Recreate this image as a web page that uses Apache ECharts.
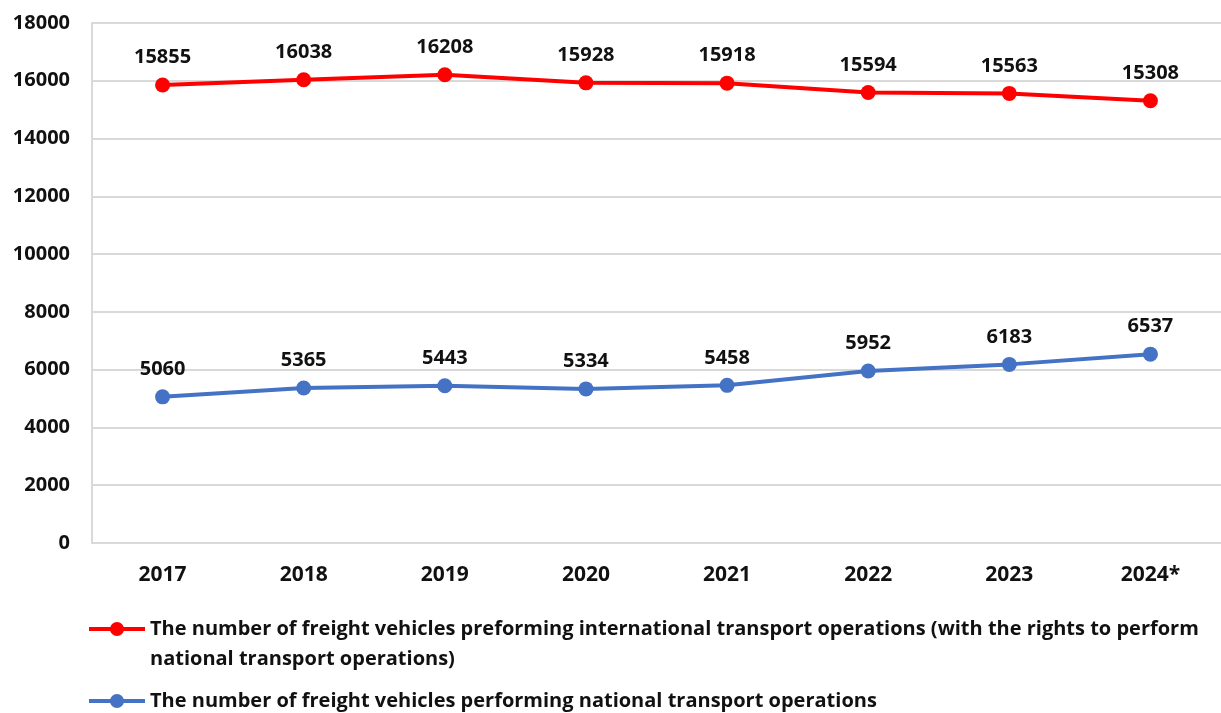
<!DOCTYPE html>
<html>
<head>
<meta charset="utf-8">
<script src="https://cdn.jsdelivr.net/npm/echarts@6/dist/echarts.min.js"></script>
<style>
  html, body { margin: 0; padding: 0; background: #fff; }
  #chart { width: 1221px; height: 713px; }
</style>
</head>
<body>
<div id="chart"></div>
<script>
const years = ['2017', '2018', '2019', '2020', '2021', '2022', '2023', '2024*']
const international = [15855, 16038, 16208, 15928, 15918, 15594, 15563, 15308]
const national = [5060, 5365, 5443, 5334, 5458, 5952, 6183, 6537]
const seriesNames = [
  'The number of freight vehicles preforming international transport operations (with the rights to perform\nnational transport operations)',
  'The number of freight vehicles performing national transport operations'
]

const font = '"Open Sans", sans-serif'
const chart = echarts.init(document.getElementById('chart'))

// legend marker: line with a dot, 56 wide
const dotLine = 'M0 5H56V9H0Z M21 7A7 7 0 1 1 35 7A7 7 0 1 1 21 7Z'
// taller box with the marker at its top, so it sits beside the first text line
const dotLineTall = dotLine + ' M0 43.9L0.05 44L0 44Z'

const labelStyle = {
  show: true,
  position: 'top',
  distance: 10,
  color: '#111',
  fontFamily: font,
  fontWeight: 'bold',
  fontSize: 20
}

const legendText = {
  color: '#111',
  fontFamily: font,
  fontWeight: 'bold',
  fontSize: 20,
  lineHeight: 30
}

chart.setOption({
  animation: false,
  grid: {
    left: 92,
    top: 23,
    width: 1149,
    height: 520
  },
  legend: [
    {
      left: 84,
      top: 609,
      itemWidth: 56,
      itemHeight: 44,
      icon: 'path://' + dotLineTall,
      itemStyle: { borderWidth: 0 },
      data: [seriesNames[0]],
      textStyle: legendText
    },
    {
      left: 84,
      top: 681,
      itemWidth: 56,
      itemHeight: 14,
      icon: 'path://' + dotLine,
      itemStyle: { borderWidth: 0 },
      data: [seriesNames[1]],
      textStyle: legendText
    }
  ],
  xAxis: {
    type: 'category',
    data: years,
    axisLine: { lineStyle: { color: '#d9d9d9', width: 2 } },
    axisTick: { show: false },
    axisLabel: {
      margin: 22,
      color: '#111',
      fontFamily: font,
      fontWeight: 'bold',
      fontSize: 21
    }
  },
  yAxis: {
    type: 'value',
    min: 0,
    max: 18000,
    interval: 2000,
    axisLine: { show: true, lineStyle: { color: '#d9d9d9', width: 2 } },
    splitLine: { lineStyle: { color: '#d9d9d9', width: 2 } },
    axisLabel: {
      margin: 22,
      color: '#111',
      fontFamily: font,
      fontWeight: 'bold',
      fontSize: 20,
      formatter: v => String(v)
    }
  },
  series: [
    {
      name: seriesNames[0],
      type: 'line',
      data: international,
      symbol: 'circle',
      symbolSize: 15,
      color: '#ff0000',
      lineStyle: { width: 4, color: '#ff0000' },
      label: labelStyle
    },
    {
      name: seriesNames[1],
      type: 'line',
      data: national,
      symbol: 'circle',
      symbolSize: 15,
      color: '#4472c4',
      lineStyle: { width: 4, color: '#4472c4' },
      label: labelStyle
    }
  ]
})
</script>
</body>
</html>
